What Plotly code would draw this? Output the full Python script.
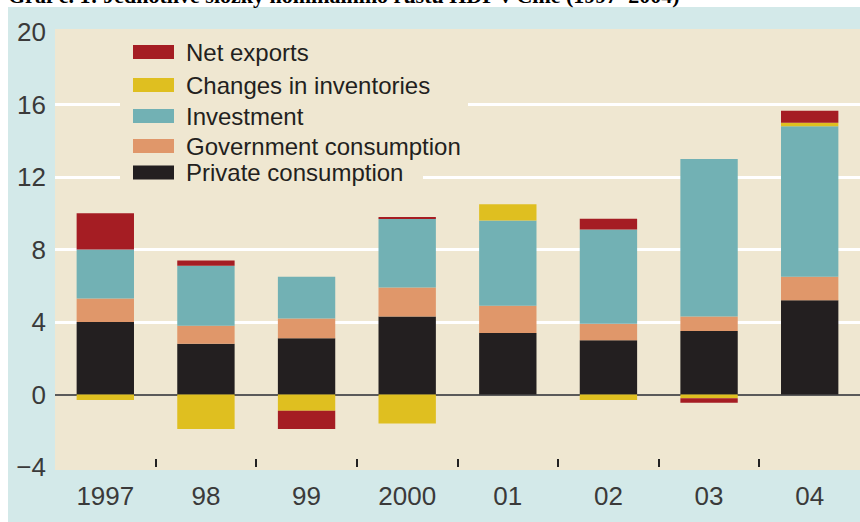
import plotly.graph_objects as go

# ---- data ----
years = ["1997", "98", "99", "2000", "01", "02", "03", "04"]
private_consumption = [4.0, 2.8, 3.1, 4.3, 3.4, 3.0, 3.5, 5.2]
government_consumption = [1.3, 1.0, 1.1, 1.6, 1.5, 0.9, 0.8, 1.3]
investment = [2.7, 3.3, 2.3, 3.8, 4.7, 5.2, 8.7, 8.3]
changes_in_inventories = [-0.3, -1.9, -0.9, -1.6, 0.9, -0.3, -0.2, 0.2]
net_exports = [2.0, 0.3, -1.0, 0.05, 0.0, 0.6, -0.25, 0.65]
y_ticks = [-4, 0, 4, 8, 12, 16, 20]
title_text = "Graf č. 1: Jednotlivé složky nominálního růstu HDP v Číně (1997–2004)"

series = [
    ("Private consumption", private_consumption, "#231f20"),
    ("Government consumption", government_consumption, "#e0976a"),
    ("Investment", investment, "#72b1b4"),
    ("Changes in inventories", changes_in_inventories, "#dfbf20"),
    ("Net exports", net_exports, "#a51d23"),
]

CREAM = "#efe7d1"
BLUE = "#d3e9e9"
FONT = "Liberation Sans, Arial, sans-serif"

fig = go.Figure()
for name, vals, col in series:
    fig.add_trace(go.Bar(x=years, y=vals, name=name, marker=dict(color=col, line=dict(width=0)),
                         showlegend=False))

# pixel helpers for layout (plot area 55..860 x 32..467)
L, R, T, B = 55, 860, 32, 467
def px(x):
    return (x - L) / (R - L)
def py(y):
    return (B - y) / (B - T)

shapes = [
    # white strips at top / left edges of image
    dict(type="rect", xref="paper", yref="paper", x0=px(-5), x1=px(870), y0=py(7), y1=py(-5),
         fillcolor="white", line=dict(width=0), layer="below"),
    dict(type="rect", xref="paper", yref="paper", x0=px(-5), x1=px(8), y0=py(530), y1=py(-5),
         fillcolor="white", line=dict(width=0), layer="below"),
    # legend background boxes
    dict(type="rect", xref="paper", yref="paper", x0=px(120), x1=px(468), y0=py(160), y1=py(36),
         fillcolor=CREAM, line=dict(width=0), layer="above"),
    dict(type="rect", xref="paper", yref="paper", x0=px(120), x1=px(423), y0=py(187), y1=py(159),
         fillcolor=CREAM, line=dict(width=0), layer="above"),
]
annotations = []
legend_rows = [52, 85, 116, 146, 172.5]
for (name, vals, col), yc in zip(reversed(series), legend_rows):
    shapes.append(dict(type="rect", xref="paper", yref="paper", x0=px(133), x1=px(174),
                       y0=py(yc + 7), y1=py(yc - 7), fillcolor=col, line=dict(width=0), layer="above"))
    annotations.append(dict(text=name, xref="paper", yref="paper", x=px(184), y=py(yc),
                            xanchor="left", yanchor="middle", showarrow=False,
                            font=dict(family=FONT, size=24, color="#231f20")))

annotations.append(dict(text="<b>" + title_text + "</b>", xref="paper", yref="paper",
                        x=px(6), y=py(10), xanchor="left", yanchor="bottom", showarrow=False,
                        font=dict(family="Liberation Serif, Times New Roman, serif", size=22, color="black")))

fig.update_layout(
    width=860, height=522,
    margin=dict(l=L, r=860 - R, t=T, b=522 - B, autoexpand=False),
    paper_bgcolor=BLUE, plot_bgcolor=CREAM,
    barmode="relative", bargap=0.43,
    shapes=shapes, annotations=annotations,
    xaxis=dict(type="category", tickson="boundaries", ticks="inside", ticklen=8, tickwidth=1.5,
               tickcolor="#222222", showgrid=False, tickfont=dict(family=FONT, size=26, color="#3a3a3a"),
               showline=True, linecolor=CREAM, linewidth=3, mirror=True, ticklabelstandoff=4,
               automargin=False),
    yaxis=dict(range=[-4, 20], tickvals=y_ticks, showgrid=True, gridcolor="white", gridwidth=2.5,
               zeroline=True, zerolinecolor="#5a5a5a", zerolinewidth=1.5,
               tickfont=dict(family=FONT, size=26, color="#3a3a3a"), ticks="", ticklabelstandoff=8,
               automargin=False),
)

fig.write_html("out.html", config={"displayModeBar": False},
               post_script="document.body.style.margin='0px';")
